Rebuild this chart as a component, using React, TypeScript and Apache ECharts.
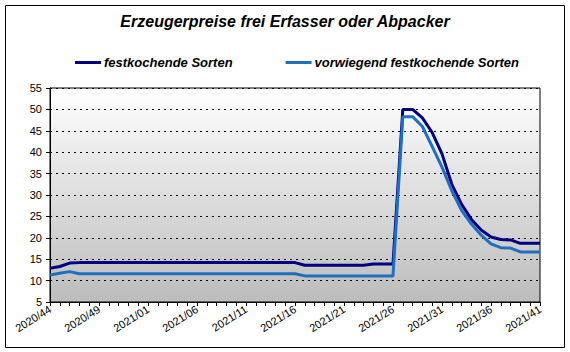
import React, { useEffect, useRef } from "react";
import * as echarts from "echarts";

const weeks: string[] = [
  "2020/44", "2020/45", "2020/46", "2020/47", "2020/48", "2020/49", "2020/50", "2020/51", "2020/52", "2020/53",
  "2021/01", "2021/02", "2021/03", "2021/04", "2021/05", "2021/06", "2021/07", "2021/08", "2021/09", "2021/10",
  "2021/11", "2021/12", "2021/13", "2021/14", "2021/15", "2021/16", "2021/17", "2021/18", "2021/19", "2021/20",
  "2021/21", "2021/22", "2021/23", "2021/24", "2021/25", "2021/26", "2021/27", "2021/28", "2021/29", "2021/30",
  "2021/31", "2021/32", "2021/33", "2021/34", "2021/35", "2021/36", "2021/37", "2021/38", "2021/39", "2021/40",
  "2021/41",
];

const festkochend: number[] = [
  12.9, 13.3, 14.1, 14.2, 14.2, 14.2, 14.2, 14.2, 14.2, 14.2,
  14.2, 14.2, 14.2, 14.2, 14.2, 14.2, 14.2, 14.2, 14.2, 14.2,
  14.2, 14.2, 14.2, 14.2, 14.2, 14.2, 13.6, 13.6, 13.6, 13.6,
  13.6, 13.6, 13.6, 13.9, 13.9, 13.9, 50.0, 50.0, 48.0, 44.6,
  39.6, 32.5, 27.8, 24.3, 21.8, 20.2, 19.6, 19.5, 18.7, 18.7,
  18.7,
];

const vorwiegendFestkochend: number[] = [
  11.3, 11.7, 12.1, 11.6, 11.6, 11.6, 11.6, 11.6, 11.6, 11.6,
  11.6, 11.6, 11.6, 11.6, 11.6, 11.6, 11.6, 11.6, 11.6, 11.6,
  11.6, 11.6, 11.6, 11.6, 11.6, 11.6, 11.1, 11.1, 11.1, 11.1,
  11.1, 11.1, 11.1, 11.1, 11.1, 11.1, 48.3, 48.3, 46.0, 41.3,
  36.5, 31.0, 26.4, 23.2, 20.6, 18.6, 17.7, 17.6, 16.7, 16.7,
  16.7,
];

const seriesNames: string[] = ["festkochende Sorten", "vorwiegend festkochende Sorten"];
const seriesColors: string[] = ["#000080", "#1e6fc0"];

export default function App() {
  const ref = useRef<HTMLDivElement>(null);
  useEffect(() => {
    if (!ref.current) return;
    const chart = echarts.init(ref.current, null, { renderer: "svg" });
    const font = "Arial, 'Liberation Sans', sans-serif";
    chart.setOption({
      animation: false,
      backgroundColor: "#ffffff",
      textStyle: { fontFamily: font },
      title: {
        text: "Erzeugerpreise frei Erfasser oder Abpacker",
        left: "center",
        top: 13,
        padding: 0,
        textStyle: { fontFamily: font, fontSize: 16, fontWeight: "bold", fontStyle: "italic", color: "#000" },
      },
      legend: {
        left: 75,
        top: 56,
        padding: 0,
        itemGap: 53,
        itemWidth: 26,
        itemHeight: 3,
        icon: "rect",
        textStyle: { fontFamily: font, fontSize: 13, fontWeight: "bold", fontStyle: "italic", color: "#000", padding: [0, 0, 0, -2] },
        data: seriesNames,
      },
      graphic: [
        {
          type: "rect",
          shape: { x: 5.5, y: 5.5, width: 559, height: 342 },
          style: { fill: "none", stroke: "#000", lineWidth: 1 },
          z: 100,
          silent: true,
        },
      ],
      grid: {
        left: 50,
        right: 30,
        top: 88,
        bottom: 50,
        show: true,
        borderColor: "#000",
        borderWidth: 1,
        backgroundColor: {
          type: "linear",
          x: 0, y: 0, x2: 0, y2: 1,
          colorStops: [
            { offset: 0, color: "#ffffff" },
            { offset: 1, color: "#bcbcbc" },
          ],
        },
      },
      xAxis: {
        type: "category",
        data: weeks,
        boundaryGap: false,
        axisLine: { show: true, lineStyle: { color: "#000", width: 1 } },
        axisTick: { show: true, interval: 0, length: 4, lineStyle: { color: "#000" } },
        axisLabel: {
          interval: 4,
          rotate: 32,
          fontSize: 11,
          color: "#000",
          fontFamily: font,
          margin: 6,
        },
        splitLine: { show: false },
      },
      yAxis: {
        type: "value",
        min: 5,
        max: 55,
        interval: 5,
        axisLine: { show: true, lineStyle: { color: "#000", width: 1 } },
        axisTick: { show: true, length: 4, lineStyle: { color: "#000" } },
        axisLabel: { fontSize: 11, color: "#000", fontFamily: font, margin: 8 },
        splitLine: { show: true, lineStyle: { color: "#000", type: [2, 4], width: 1 } },
      },
      series: [
        {
          name: seriesNames[0],
          type: "line",
          data: festkochend,
          showSymbol: false,
          symbol: "none",
          lineStyle: { color: seriesColors[0], width: 3 },
          itemStyle: { color: seriesColors[0] },
          z: 3,
        },
        {
          name: seriesNames[1],
          type: "line",
          data: vorwiegendFestkochend,
          showSymbol: false,
          symbol: "none",
          lineStyle: { color: seriesColors[1], width: 3 },
          itemStyle: { color: seriesColors[1] },
          z: 4,
        },
      ],
    });
    return () => chart.dispose();
  }, []);
  return (
    <div
      ref={ref}
      style={{ position: "fixed", left: 0, top: 0, width: 570, height: 352 }}
    />
  );
}
